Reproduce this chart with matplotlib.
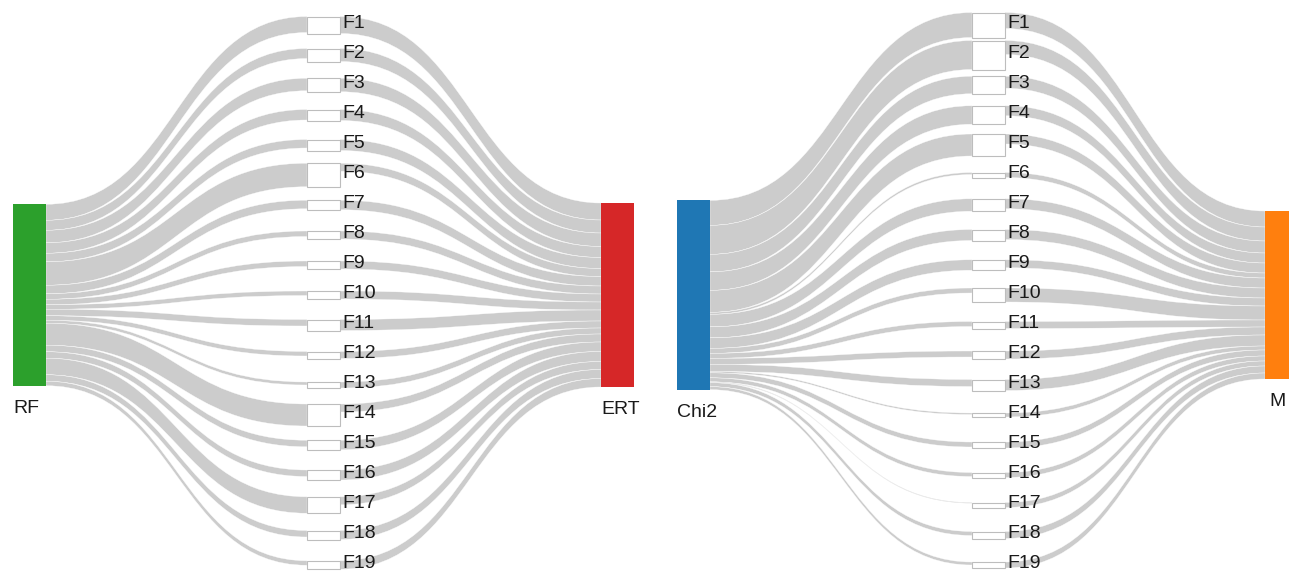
import matplotlib
matplotlib.use('Agg')
import matplotlib.pyplot as plt
from matplotlib.path import Path
from matplotlib.patches import PathPatch, Rectangle

plt.rcParams['font.family'] = ['Liberation Sans', 'DejaVu Sans']

FEATURES = [f'F{i}' for i in range(1, 20)]

# left panel: RF -> features -> ERT
RF_TO_F = [16, 10, 12.5, 10.5, 8.5, 23.5, 8.5, 5.5, 5.5, 4.5,
           6.5, 4.5, 3, 22, 6.5, 6.5, 16.5, 6.5, 4.5]
F_TO_ERT = [17, 13, 13.5, 11, 11, 8, 9.5, 8, 8, 8,
            11, 7, 6, 8, 9.5, 10, 8, 9, 8.5]

# right panel: Chi2 -> features -> M
CHI2_TO_F = [25, 29, 17.5, 18.5, 22, 2, 12.5, 11, 10.5, 5,
             5, 6, 7, 1.5, 5, 4, 0.8, 4, 3]
F_TO_M = [16, 14, 12, 10, 10, 5, 10, 10, 8, 14,
          7, 8, 11, 4, 6, 5, 5, 7, 6]

LINK = '#cccccc'
FEAT_EDGE = '#bdbdbd'
TEXT = '#1a1a1a'
NODE_W = 33
FEAT_TOP = 25      # centre of the first feature node
FEAT_STEP = 30
MID_Y = 295        # centre line for the end nodes
SCALE = 1.0        # pixels per unit of flow
FS = 14

W, H = 1289, 571
fig = plt.figure(figsize=(W / 100, H / 100), dpi=100, facecolor='white')
ax = fig.add_axes([0, 0, 1, 1])
ax.set_xlim(0, W)
ax.set_ylim(H, 0)
ax.axis('off')

CODES = [Path.MOVETO, Path.CURVE4, Path.CURVE4, Path.CURVE4,
         Path.LINETO, Path.CURVE4, Path.CURVE4, Path.CURVE4, Path.CLOSEPOLY]


def band(x0, y0, x1, y1, w):
    xm = (x0 + x1) / 2
    verts = [(x0, y0), (xm, y0), (xm, y1), (x1, y1),
             (x1, y1 + w), (xm, y1 + w), (xm, y0 + w), (x0, y0 + w), (x0, y0)]
    ax.add_patch(PathPatch(Path(verts, CODES), facecolor=LINK,
                           edgecolor='white', lw=0.25, zorder=1))


def sankey(src, tgt, inflow, outflow, x_src, x_feat, x_tgt, c_src, c_tgt):
    inw = [v * SCALE for v in inflow]
    outw = [v * SCALE for v in outflow]
    h_src, h_tgt = sum(inw), sum(outw)
    src_top = MID_Y - h_src / 2
    tgt_top = MID_Y - h_tgt / 2

    ys, yt = src_top, tgt_top
    for i, name in enumerate(FEATURES):
        cy = FEAT_TOP + i * FEAT_STEP
        hf = max(inw[i], outw[i])
        top = cy - hf / 2
        band(x_src + NODE_W, ys, x_feat, top, inw[i])
        band(x_feat + NODE_W, top, x_tgt, yt, outw[i])
        ys += inw[i]
        yt += outw[i]
        ax.add_patch(Rectangle((x_feat, top), NODE_W, hf, facecolor='white',
                               edgecolor=FEAT_EDGE, lw=0.8, zorder=2))
        ax.text(x_feat + NODE_W + 2, cy - 1, name, ha='left', va='center',
                fontsize=FS, color=TEXT, zorder=3)

    ax.add_patch(Rectangle((x_src, src_top), NODE_W, h_src, facecolor=c_src,
                           edgecolor='none', zorder=2))
    ax.add_patch(Rectangle((x_tgt, tgt_top), NODE_W, h_tgt, facecolor=c_tgt,
                           edgecolor='none', zorder=2))
    ax.text(x_src, src_top + h_src + 23, src, ha='left', va='center',
            fontsize=FS, color=TEXT)
    ax.text(x_tgt + 4 if x_tgt > 1200 else x_tgt, tgt_top + h_tgt + 22, tgt,
            ha='left', va='center', fontsize=FS, color=TEXT)


sankey('RF', 'ERT', RF_TO_F, F_TO_ERT, 13, 307, 601, '#2ca02c', '#d62728')
sankey('Chi2', 'M', CHI2_TO_F, F_TO_M, 677, 972, 1265, '#1f77b4', '#ff7f0e')

fig.savefig('out.png', dpi=100, facecolor='white')
